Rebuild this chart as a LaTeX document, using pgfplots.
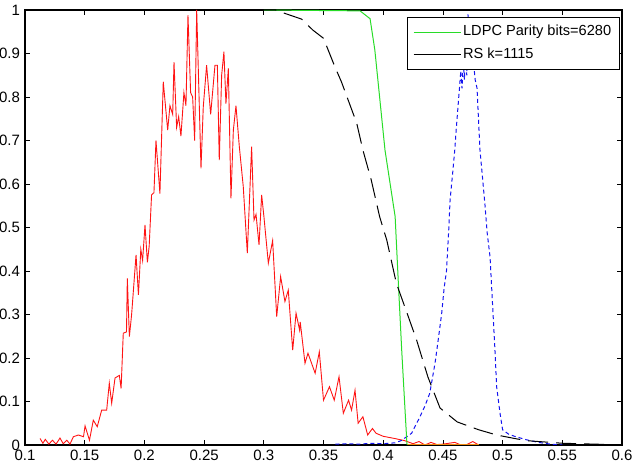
\documentclass[border=0pt]{standalone}
\usepackage{fontspec}
\setmainfont{Liberation Sans}
\usepackage{pgfplots}
\pgfplotsset{compat=1.18}
\usetikzlibrary{calc}
\definecolor{mred}{RGB}{255,20,20}
\definecolor{mgreen}{RGB}{40,220,40}
\definecolor{mblue}{RGB}{20,20,240}
\definecolor{morange}{RGB}{240,140,20}
\begin{document}
\begin{tikzpicture}
\begin{axis}[
  scale only axis,
  width=298.5pt, height=217.5pt,
  xmin=0.1, xmax=0.6, ymin=0, ymax=1,
  xtick={0.1,0.15,...,0.6},
  ytick={0,0.1,...,1},
  xticklabels={0.1,0.15,0.2,0.25,0.3,0.35,0.4,0.45,0.5,0.55,0.6},
  yticklabels={0,0.1,0.2,0.3,0.4,0.5,0.6,0.7,0.8,0.9,1},
  tick align=inside,
  major tick length=2.5pt,
  tick style={black, line width=0.4pt},
  axis line style={line width=0.8pt},
  ticklabel style={font=\fontsize{7.5}{8}\selectfont},
  xticklabel style={yshift=1pt},
  yticklabel style={xshift=1pt},
  legend style={font=\fontsize{7.3}{8}\selectfont, at={(rel axis cs:0.996,0.984)}, anchor=north east, draw=black, line width=0.4pt, inner xsep=3pt, inner ysep=3pt, row sep=2.5pt, nodes={inner sep=1pt}, cells={anchor=west}},
  legend cell align=left,
  legend image code/.code={\draw[#1, solid, line width=0.5pt] (0pt,0pt) -- (23.5pt,0pt);},
]
\addplot[mred, line width=0.45pt, forget plot] coordinates {
(0.1126,0.015)(0.115,0.004)(0.117,0.013)(0.12,0.002)(0.123,0.011)(0.126,0.002)(0.1293,0.016)(0.132,0.003)(0.135,0.011)(0.1377,0.002)(0.1405,0.019)(0.1447,0.023)(0.149,0.019)(0.1503,0.044)(0.154,0.011)(0.1572,0.057)(0.1605,0.042)(0.1642,0.08)(0.1684,0.08)(0.1706,0.142)(0.1726,0.096)(0.1754,0.154)(0.179,0.16)(0.1805,0.13)(0.1823,0.257)(0.185,0.26)(0.1857,0.383)(0.1874,0.249)(0.1893,0.30)(0.193,0.437)(0.195,0.345)(0.197,0.45)(0.1985,0.424)(0.2005,0.506)(0.2025,0.42)(0.204,0.457)(0.206,0.575)(0.208,0.58)(0.2097,0.70)(0.213,0.578)(0.2158,0.835)(0.2195,0.724)(0.2214,0.78)(0.2237,0.76)(0.2248,0.88)(0.227,0.73)(0.2287,0.755)(0.2306,0.71)(0.2331,0.81)(0.2348,0.78)(0.2365,0.988)(0.2387,0.81)(0.2404,0.80)(0.2421,0.70)(0.2438,1.0)(0.2474,0.636)(0.2493,0.777)(0.2521,0.873)(0.2555,0.76)(0.2591,0.873)(0.2611,0.873)(0.2627,0.655)(0.2647,0.85)(0.2666,0.904)(0.2683,0.785)(0.2703,0.866)(0.2725,0.567)(0.2745,0.724)(0.2767,0.78)(0.2795,0.686)(0.2828,0.594)(0.2862,0.441)(0.2898,0.686)(0.2918,0.517)(0.2935,0.53)(0.296,0.46)(0.2982,0.575)(0.3001,0.525)(0.3038,0.418)(0.3074,0.47)(0.3108,0.295)(0.3141,0.387)(0.3177,0.33)(0.3205,0.356)(0.3242,0.218)(0.327,0.303)(0.33,0.264)(0.3305,0.283)(0.3345,0.188)(0.337,0.211)(0.343,0.165)(0.3465,0.214)(0.35,0.103)(0.355,0.134)(0.359,0.103)(0.363,0.157)(0.3666,0.073)(0.371,0.103)(0.3735,0.08)(0.3764,0.126)(0.379,0.05)(0.383,0.065)(0.387,0.023)(0.391,0.038)(0.394,0.027)(0.4,0.02)(0.4095,0.015)(0.418,0.01)(0.425,0.003)(0.43,0.008)(0.435,0.0)(0.44,0.006)(0.445,0.001)(0.45,0.002)(0.46,0.006)(0.465,0.0)(0.47,0.001)(0.475,0.008)(0.48,0.0)
};
\addplot[morange, line width=0.6pt, forget plot] coordinates {(0.42,0.001)(0.48,0.001)};
\addplot[mblue, line width=0.5pt, dash pattern=on 2pt off 1.5pt, forget plot] coordinates {
(0.36,0.002)(0.37,0.003)(0.38,0.002)(0.39,0.004)(0.40,0.003)(0.41,0.005)(0.415,0.01)(0.4238,0.027)(0.4308,0.065)(0.435,0.09)(0.439,0.119)(0.4434,0.188)(0.446,0.24)(0.449,0.303)(0.451,0.36)(0.453,0.40)(0.455,0.50)(0.456,0.563)(0.458,0.62)(0.46,0.68)(0.461,0.72)(0.463,0.79)(0.465,0.86)(0.466,0.82)(0.467,0.88)(0.468,0.84)(0.469,0.9)(0.470,0.85)(0.471,0.99)(0.473,0.87)(0.475,0.9)(0.477,0.84)(0.4786,0.82)(0.481,0.68)(0.483,0.62)(0.4853,0.55)(0.487,0.49)(0.4895,0.432)(0.4936,0.218)(0.495,0.134)(0.498,0.07)(0.5,0.035)(0.505,0.025)(0.51,0.02)(0.52,0.012)(0.53,0.006)(0.54,0.002)(0.55,0.0)
};
\addplot[mgreen, line width=0.5pt] coordinates {
(0.30,1)(0.3806,0.998)(0.389,0.98)(0.393,0.908)(0.4015,0.678)(0.41,0.525)(0.4127,0.372)(0.4155,0.218)(0.4197,0.011)(0.42,0)
};
\addlegendentry{LDPC Parity bits=6280}
\addplot[black, line width=0.5pt, dash pattern=on 10pt off 4pt] coordinates {
(0.2,1)(0.31,1)(0.3136,0.996)(0.3317,0.979)(0.341,0.954)(0.35,0.935)(0.3596,0.869)(0.365,0.835)(0.3778,0.74)(0.383,0.678)(0.39,0.609)(0.397,0.525)(0.403,0.471)(0.411,0.372)(0.42,0.303)(0.428,0.241)(0.4375,0.156)(0.4476,0.085)(0.462,0.053)(0.48,0.035)(0.495,0.023)(0.51,0.015)(0.52,0.01)(0.55,0.004)(0.59,0.001)
};
\addlegendentry{RS k=1115}
\end{axis}
\pgfresetboundingbox
\path ($(current axis.south west)+(-12.5pt,-13.5pt)$) rectangle ($(current axis.north east)+(5.5pt,5pt)$);
\end{tikzpicture}
\end{document}
